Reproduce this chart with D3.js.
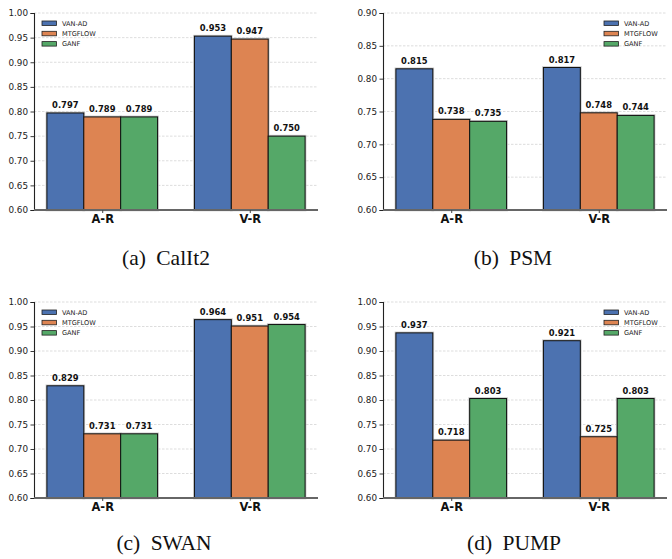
<!DOCTYPE html>
<html>
<head>
<meta charset="utf-8">
<script src="https://cdn.jsdelivr.net/npm/d3@7"></script>
<style>
  body { margin: 0; background: #fff; }
  svg { display: block; }
</style>
</head>
<body>
<svg width="672" height="559"></svg>
<script>
var categories = ["A-R", "V-R"];
var series = ["VAN-AD", "MTGFLOW", "GANF"];
var colors = ["#4C72B0", "#DD8452", "#55A868"];

// values per series, in category order
var calit2 = [[0.797, 0.953], [0.789, 0.947], [0.789, 0.750]];
var psm    = [[0.815, 0.817], [0.738, 0.748], [0.735, 0.744]];
var swan   = [[0.829, 0.964], [0.731, 0.951], [0.731, 0.954]];
var pump   = [[0.937, 0.921], [0.718, 0.725], [0.803, 0.803]];

var ticksTo100 = [0.60, 0.65, 0.70, 0.75, 0.80, 0.85, 0.90, 0.95, 1.00];
var ticksTo090 = [0.60, 0.65, 0.70, 0.75, 0.80, 0.85, 0.90];

var captions = ["(a) CalIt2", "(b) PSM", "(c) SWAN", "(d) PUMP"];

var panels = [
  { data: calit2, ticks: ticksTo100, left: 34,  top: 13,  bottom: 210, legend: "left",  cap: captions[0], capX: 166, capY: 265 },
  { data: psm,    ticks: ticksTo090, left: 383, top: 13,  bottom: 210, legend: "right", cap: captions[1], capX: 513, capY: 265 },
  { data: swan,   ticks: ticksTo100, left: 34,  top: 302, bottom: 498, legend: "left",  cap: captions[2], capX: 164, capY: 550 },
  { data: pump,   ticks: ticksTo100, left: 383, top: 302, bottom: 498, legend: "right", cap: captions[3], capX: 514, capY: 550 }
];

var sans = "'DejaVu Sans', Verdana, sans-serif";
var serif = "'Liberation Serif', 'Times New Roman', Times, serif";

var svg = d3.select("svg");
var plotW = 284;
var barW = 0.25;

panels.forEach(function(p) {
  var g = svg.append("g");

  var x = d3.scaleLinear()
              .domain([-0.4625, 1.4625])
              .range([p.left, p.left + plotW]);

  var y = d3.scaleLinear()
              .domain([p.ticks[0], p.ticks[p.ticks.length - 1]])
              .range([p.bottom, p.top]);

  // grid
  g.selectAll(".grid")
      .data(p.ticks)
      .enter()
      .append("line")
      .attr("x1", p.left)
      .attr("x2", p.left + plotW)
      .attr("y1", function(d) { return y(d) })
      .attr("y2", function(d) { return y(d) })
      .attr("stroke", "#cfcfcf")
      .attr("stroke-width", 0.7)
      .attr("stroke-dasharray", "2.5,1.5");

  // bars
  var bars = [];
  p.data.forEach(function(vals, j) {
    vals.forEach(function(v, i) {
      bars.push({ i: i, j: j, v: v });
    });
  });

  function bx(d) { return x(d.i + (d.j - 1) * barW - barW / 2); }
  var bw = x(barW) - x(0);

  g.selectAll(".halo")
      .data(bars)
      .enter()
      .append("rect")
      .attr("x", bx)
      .attr("y", function(d) { return y(d.v) })
      .attr("width", bw)
      .attr("height", function(d) { return p.bottom - y(d.v) })
      .attr("fill", "none")
      .attr("stroke", "#c8c8c8")
      .attr("stroke-width", 2.6);

  g.selectAll(".bar")
      .data(bars)
      .enter()
      .append("rect")
      .attr("x", bx)
      .attr("y", function(d) { return y(d.v) })
      .attr("width", bw)
      .attr("height", function(d) { return p.bottom - y(d.v) })
      .attr("fill", function(d) { return colors[d.j] })
      .attr("stroke", "#111")
      .attr("stroke-width", 1);

  g.selectAll(".val")
      .data(bars)
      .enter()
      .append("text")
      .attr("x", function(d) { return bx(d) + bw / 2 })
      .attr("y", function(d) { return y(d.v) - 5 })
      .attr("text-anchor", "middle")
      .attr("font-family", sans)
      .attr("font-weight", "bold")
      .attr("font-size", 8.4)
      .attr("fill", "#111")
      .text(function(d) { return d.v.toFixed(3) });

  // y axis
  var yAxis = d3.axisLeft(y)
                  .tickValues(p.ticks)
                  .tickSize(3.5)
                  .tickPadding(2.5)
                  .tickFormat(d3.format(".2f"));
  var ya = g.append("g")
      .attr("transform", "translate(" + p.left + ",0)")
      .call(yAxis);
  ya.select(".domain").attr("stroke", "#222").attr("stroke-width", 1.1);
  ya.selectAll(".tick line").attr("stroke", "#222").attr("stroke-width", 0.9);
  ya.selectAll(".tick text")
      .attr("font-family", sans)
      .attr("font-size", 8.8)
      .attr("fill", "#222");

  // x axis
  var xAxis = d3.axisBottom(x)
                  .tickValues([0, 1])
                  .tickSize(3)
                  .tickPadding(2)
                  .tickFormat(function(d) { return categories[d] });
  var xa = g.append("g")
      .attr("transform", "translate(0," + p.bottom + ")")
      .call(xAxis);
  xa.select(".domain").attr("stroke", "#666").attr("stroke-width", 2).attr("d", "M" + p.left + ",0H" + (p.left + plotW));
  xa.selectAll(".tick line").attr("stroke", "#444");
  xa.selectAll(".tick text")
      .attr("font-family", sans)
      .attr("font-weight", "bold")
      .attr("font-size", 11.5)
      .attr("fill", "#111");

  // legend
  var lx = p.legend == "left" ? p.left + 8 : p.left + 221;
  var lg = g.append("g").attr("transform", "translate(" + lx + "," + (p.top + 8) + ")");
  series.forEach(function(s, j) {
    lg.append("rect")
        .attr("x", 0)
        .attr("y", j * 10.3)
        .attr("width", 14.5)
        .attr("height", 4.5)
        .attr("fill", colors[j])
        .attr("stroke", "#222")
        .attr("stroke-width", 0.8);
    lg.append("text")
        .attr("x", 20)
        .attr("y", j * 10.3 + 4.8)
        .attr("font-family", sans)
        .attr("font-size", 6.6)
        .attr("fill", "#222")
        .text(s);
  });

  // caption
  var parts = p.cap.split(" ");
  var cap = svg.append("text")
      .attr("x", p.capX)
      .attr("y", p.capY)
      .attr("text-anchor", "middle")
      .attr("font-family", serif)
      .attr("font-size", 21.5)
      .attr("fill", "#111");
  cap.append("tspan").text(parts[0]);
  cap.append("tspan").attr("dx", 5).text(" " + parts[1]);
});
</script>
</body>
</html>
